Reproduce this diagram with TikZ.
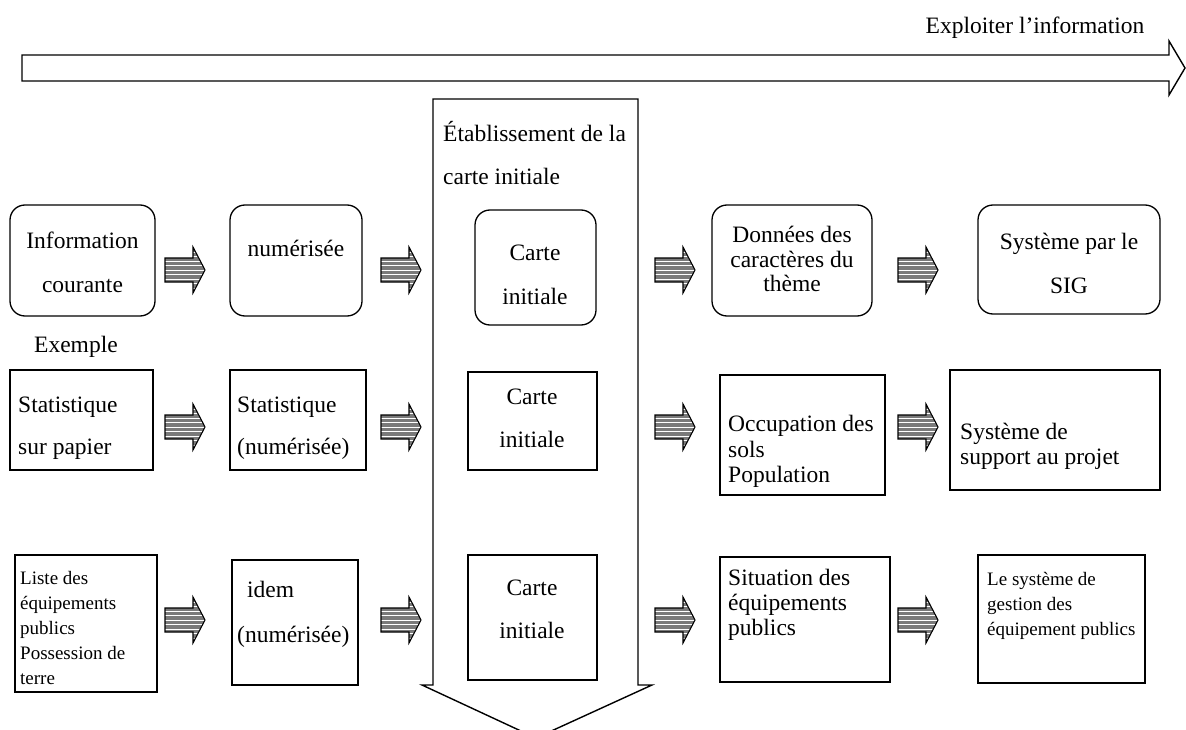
\documentclass[tikz,border=0pt]{standalone}
\usepackage{fontspec}
\setmainfont{Liberation Serif}
\tikzset{
  boxline/.style={draw=black, line width=1.3pt, inner sep=0pt, fill=none},
  rbox/.style={boxline, rounded corners=15pt},
  sbox/.style={boxline},
  txt/.style={inner sep=0pt, font=\fontsize{23.5}{28}\selectfont},
  smalltxt/.style={inner sep=0pt, font=\fontsize{19}{24}\selectfont},
  bigarrow/.style={draw=black, line width=1.4pt, fill=white},
  sarrow/.pic={
    \begin{scope}
      \clip (0,-12) -- (28,-12) -- (28,-23) -- (40,0) -- (28,23) -- (28,12) -- (0,12) -- cycle;
      \fill[black!52] (-1,-25) rectangle (41,25);
      \foreach \k in {-9,-4.5,0,4.5,9,13.5,-13.5,18,-18}
        \draw[white, line width=0.9pt] (-1,\k) -- (41,\k);
    \end{scope}
    \draw[line width=1.1pt, line join=miter] (0,-12) -- (28,-12) -- (28,-23) -- (40,0) -- (28,23) -- (28,12) -- (0,12) -- cycle;
  }
}
\newcommand\mybox[6]{\node[#6, minimum width={#4pt-#2pt}, minimum height={#5pt-#3pt}] (#1) at ({(#2+#4)/2},{(#3+#5)/2}) {};}
\begin{document}
\begin{tikzpicture}[x=1pt, y=-1pt]
\useasboundingbox (0,0) rectangle (1186,730);
\clip (0,0) rectangle (1186,730);
\fill[white] (0,0) rectangle (1186,730);

% top arrow
\draw[bigarrow, line join=miter] (22,55) -- (1169,55) -- (1169,41) -- (1185,68) -- (1169,95) -- (1169,81) -- (22,81) -- cycle;
\node[txt, anchor=base] (exploit) at (1035,34) {Exploiter l’information};

% column arrow
\draw[bigarrow, line join=miter] (433,99) -- (638,99) -- (638,685) -- (652,685) -- (536,738) -- (422,685) -- (433,685) -- cycle;
\node[txt, anchor=base west] (col1) at (443,142) {Établissement de la};
\node[txt, anchor=base west] (col2) at (443,185) {carte initiale};

% row 1
\mybox{b11}{10}{205}{155}{316}{rbox}
\mybox{b12}{230}{205}{362}{316}{rbox}
\mybox{b13}{475}{210}{596}{325}{rbox}
\mybox{b14}{712}{205}{872}{316}{rbox}
\mybox{b15}{978}{205}{1160}{314}{rbox}
\node[txt, anchor=base] (t11a) at (82.5,248) {Information};
\node[txt, anchor=base] (t11b) at (82.5,292) {courante};
\node[txt, anchor=base] (t12a) at (296,257) {numérisée};
\node[txt, anchor=base] (t13a) at (535,260) {Carte};
\node[txt, anchor=base] (t13b) at (535,304) {initiale};
\node[txt, anchor=base] (t14a) at (792,243) {Données des};
\node[txt, anchor=base] (t14b) at (792,267) {caractères du};
\node[txt, anchor=base] (t14c) at (792,291) {thème};
\node[txt, anchor=base] (t15a) at (1069,250) {Système par le};
\node[txt, anchor=base] (t15b) at (1069,293) {SIG};

% row 2
\node[txt, anchor=base west] (ex) at (34,352) {Exemple};
\mybox{b21}{10}{370}{153}{470}{sbox}
\mybox{b22}{230}{370}{366}{470}{sbox}
\mybox{b23}{468}{372}{597}{470}{sbox}
\mybox{b24}{720}{375}{885}{495}{sbox}
\mybox{b25}{950}{370}{1160}{490}{sbox}
\node[txt, anchor=base west] (t21a) at (18,412) {Statistique};
\node[txt, anchor=base west] (t21b) at (18,454) {sur papier};
\node[txt, anchor=base west] (t22a) at (237,412) {Statistique};
\node[txt, anchor=base west] (t22b) at (237,454) {(numérisée)};
\node[txt, anchor=base] (t23a) at (532,404) {Carte};
\node[txt, anchor=base] (t23b) at (532,447) {initiale};
\node[txt, anchor=base west] (t24a) at (728,431) {Occupation des};
\node[txt, anchor=base west] (t24b) at (728,457) {sols};
\node[txt, anchor=base west] (t24c) at (728,482) {Population};
\node[txt, anchor=base west] (t25a) at (960,439) {Système de};
\node[txt, anchor=base west] (t25b) at (960,464) {support au projet};

% row 3
\mybox{b31}{15}{555}{157}{692}{sbox}
\mybox{b32}{232}{560}{358}{685}{sbox}
\mybox{b33}{468}{555}{597}{680}{sbox}
\mybox{b34}{720}{557}{890}{682}{sbox}
\mybox{b35}{978}{555}{1145}{683}{sbox}
\node[smalltxt, anchor=base west] (t31a) at (20,584) {Liste des};
\node[smalltxt, anchor=base west] (t31b) at (20,609) {équipements};
\node[smalltxt, anchor=base west] (t31c) at (20,634) {publics};
\node[smalltxt, anchor=base west] (t31d) at (20,659) {Possession de};
\node[smalltxt, anchor=base west] (t31e) at (20,684) {terre};
\node[txt, anchor=base west] (t32a) at (247,597) {idem};
\node[txt, anchor=base west] (t32b) at (237,642) {(numérisée)};
\node[txt, anchor=base] (t33a) at (532,595) {Carte};
\node[txt, anchor=base] (t33b) at (532,638) {initiale};
\node[txt, anchor=base west] (t34a) at (728,585) {Situation des};
\node[txt, anchor=base west] (t34b) at (728,610) {équipements};
\node[txt, anchor=base west] (t34c) at (728,635) {publics};
\node[smalltxt, anchor=base west] (t35a) at (987,585) {Le système de};
\node[smalltxt, anchor=base west] (t35b) at (987,610) {gestion des};
\node[smalltxt, anchor=base west] (t35c) at (987,635) {équipement publics};

% striped arrows
\foreach \yy in {270,427,620} {
  \pic at (165,\yy) {sarrow};
  \pic at (381,\yy) {sarrow};
  \pic at (655,\yy) {sarrow};
  \pic at (898,\yy) {sarrow};
}
\end{tikzpicture}
\end{document}
